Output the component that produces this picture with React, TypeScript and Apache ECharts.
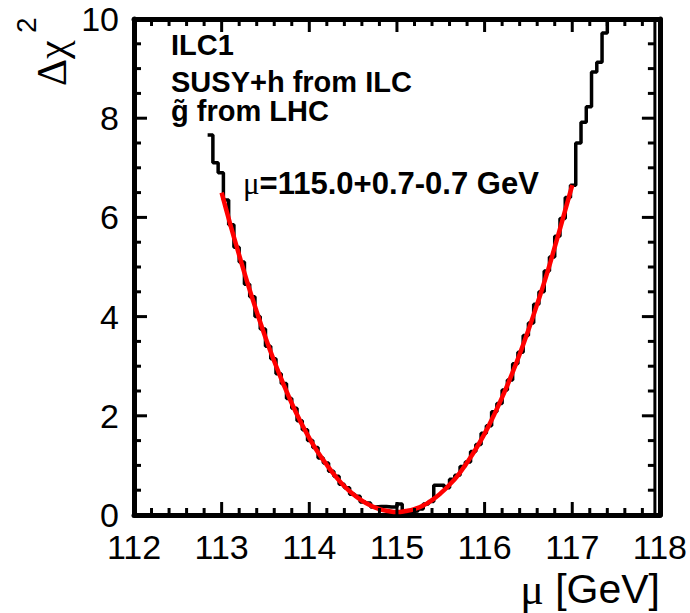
import { useEffect, useRef } from 'react';
import * as echarts from 'echarts';

// ---- data ----
const xTickLabels = ['112', '113', '114', '115', '116', '117', '118'];
const yTickLabels = ['0', '2', '4', '6', '8', '10'];

// Histogram of Δχ², bins of 0.06 GeV starting at 112.84 GeV
const binStart = 112.84;
const binWidth = 0.06;
const histValues = [
  7.66, 7.10, 6.90, 6.35, 5.85, 5.40, 5.10, 4.65, 4.40, 4.00,
  3.75, 3.40, 3.15, 2.85, 2.65, 2.35, 2.15, 1.90, 1.72, 1.50,
  1.36, 1.15, 1.05, 0.88, 0.78, 0.62, 0.55, 0.42, 0.38, 0.26,
  0.24, 0.16, 0.17, 0.17, 0.16, 0.16, 0.22, 0.06, 0.07, 0.08,
  0.12, 0.22, 0.27, 0.60, 0.60, 0.55, 0.72, 0.80, 0.98, 1.07,
  1.28, 1.42, 1.65, 1.80, 2.08, 2.25, 2.52, 2.72, 3.05, 3.28,
  3.62, 3.87, 4.25, 4.50, 4.92, 5.20, 5.62, 5.98, 6.40, 6.65,
  7.50, 7.92, 8.23, 8.93, 9.13, 9.72, 10.6,
];

// Parabolic fit curve (red)
const fitX = [
  113.0, 113.1, 113.2, 113.3, 113.4, 113.5, 113.6, 113.7, 113.8, 113.9,
  114.0, 114.1, 114.2, 114.3, 114.4, 114.5, 114.6, 114.7, 114.8, 114.9,
  115.0, 115.1, 115.2, 115.3, 115.4, 115.5, 115.6, 115.7, 115.8, 115.9,
  116.0, 116.1, 116.2, 116.3, 116.4, 116.5, 116.6, 116.7, 116.8, 116.9,
  117.0,
];
const fitY = [
  6.50, 5.85, 5.24, 4.65, 4.10, 3.58, 3.10, 2.66, 2.25, 1.88,
  1.55, 1.26, 1.01, 0.78, 0.58, 0.42, 0.29, 0.19, 0.12, 0.08,
  0.06, 0.08, 0.12, 0.19, 0.30, 0.44, 0.61, 0.81, 1.06, 1.33,
  1.64, 1.99, 2.37, 2.79, 3.24, 3.73, 4.25, 4.80, 5.40, 6.02,
  6.65,
];

const annotationLines = ['ILC1', 'SUSY+h from ILC', 'g\u0303 from LHC'];
const fitResultText = '=115.0+0.7-0.7 GeV';

// axis ranges and tick spacing
const X_MIN = 112, X_MAX = 118, X_MAJOR = 1, X_MINOR_DIV = 5;
const Y_MIN = 0, Y_MAX = 10, Y_MAJOR = 2, Y_MINOR_DIV = 4;

const SANS = 'Liberation Sans, Arial, Helvetica, sans-serif';
const SERIF = 'Liberation Serif, Times New Roman, serif';

const GRID = { left: 134, top: 19, width: 526, height: 496 };
const AXIS_W = 5;
const TICK_W = 3;
const MAJOR_LEN = 13;
const MINOR_LEN = 7;
const INNER_RIGHT_GAP = 5;

function tickValues(min: number, max: number, major: number, div: number) {
  const out: { v: number; major: boolean }[] = [];
  const n = Math.round((max - min) / major) * div;
  for (let k = 0; k <= n; k++) {
    out.push({ v: +(min + (k * major) / div).toFixed(6), major: k % div === 0 });
  }
  return out;
}

export default function App() {
  const ref = useRef<HTMLDivElement>(null);

  useEffect(() => {
    if (!ref.current) return;
    const chart = echarts.init(ref.current, undefined, { renderer: 'svg' });

    const histData: number[][] = [];
    histValues.forEach((v, i) => {
      const lo = binStart + i * binWidth;
      histData.push([lo, v]);
      histData.push([lo + binWidth, v]);
    });
    const fitData = fitX.map((x, i) => [x, fitY[i]]);

    // inward tick marks as rect symbols anchored on the axis values
    const tickMarks: any[] = [];
    tickValues(X_MIN, X_MAX, X_MAJOR, X_MINOR_DIV).forEach(({ v, major }) => {
      const len = major ? MAJOR_LEN : MINOR_LEN;
      tickMarks.push({ value: [v, Y_MIN], symbolSize: [TICK_W, len], symbolOffset: [0, -len / 2] });
      tickMarks.push({ value: [v, Y_MAX], symbolSize: [TICK_W, len], symbolOffset: [0, len / 2] });
    });
    tickValues(Y_MIN, Y_MAX, Y_MAJOR, Y_MINOR_DIV).forEach(({ v, major }) => {
      const len = major ? MAJOR_LEN : MINOR_LEN;
      tickMarks.push({ value: [X_MIN, v], symbolSize: [len, TICK_W], symbolOffset: [len / 2, 0] });
      tickMarks.push({
        value: [X_MAX, v],
        symbolSize: [len, TICK_W],
        symbolOffset: [-len / 2 - INNER_RIGHT_GAP, 0],
      });
    });
    // inner right frame line
    tickMarks.push({
      value: [X_MAX, (Y_MIN + Y_MAX) / 2],
      symbolSize: [TICK_W, GRID.height],
      symbolOffset: [-INNER_RIGHT_GAP, 0],
    });

    const axisBase = {
      type: 'value',
      splitLine: { show: false },
      axisTick: { show: false },
      minorTick: { show: false },
    };

    chart.setOption({
      animation: false,
      backgroundColor: '#fff',
      grid: { ...GRID, show: false },
      xAxis: [
        {
          ...axisBase,
          position: 'bottom',
          min: X_MIN,
          max: X_MAX,
          interval: X_MAJOR,
          axisLine: { show: true, onZero: false, lineStyle: { color: '#000', width: AXIS_W } },
          axisLabel: {
            show: true,
            color: '#000',
            fontFamily: SANS,
            fontSize: 34,
            lineHeight: 26,
            margin: 19,
            formatter: (v: number) => xTickLabels[Math.round((v - X_MIN) / X_MAJOR)] ?? '',
          },
        },
        {
          ...axisBase,
          position: 'top',
          min: X_MIN,
          max: X_MAX,
          interval: X_MAJOR,
          axisLine: { show: true, onZero: false, lineStyle: { color: '#000', width: AXIS_W } },
          axisLabel: { show: false },
        },
      ],
      yAxis: [
        {
          ...axisBase,
          position: 'left',
          min: Y_MIN,
          max: Y_MAX,
          interval: Y_MAJOR,
          axisLine: { show: true, onZero: false, lineStyle: { color: '#000', width: AXIS_W } },
          axisLabel: {
            show: true,
            color: '#000',
            fontFamily: SANS,
            fontSize: 34,
            lineHeight: 26,
            margin: 15,
            formatter: (v: number) => yTickLabels[Math.round((v - Y_MIN) / Y_MAJOR)] ?? '',
          },
        },
        {
          ...axisBase,
          position: 'right',
          min: Y_MIN,
          max: Y_MAX,
          interval: Y_MAJOR,
          axisLine: { show: true, onZero: false, lineStyle: { color: '#000', width: AXIS_W } },
          axisLabel: { show: false },
        },
      ],
      series: [
        {
          type: 'line',
          data: histData,
          xAxisIndex: 0,
          yAxisIndex: 0,
          showSymbol: false,
          symbol: 'none',
          clip: true,
          lineStyle: { color: '#000', width: 3.5 },
          z: 2,
        },
        {
          type: 'line',
          data: fitData,
          xAxisIndex: 0,
          yAxisIndex: 0,
          smooth: true,
          showSymbol: false,
          symbol: 'none',
          clip: true,
          lineStyle: { color: '#ff0000', width: 4.5 },
          z: 3,
        },
        {
          type: 'scatter',
          data: tickMarks,
          xAxisIndex: 0,
          yAxisIndex: 0,
          symbol: 'rect',
          clip: false,
          silent: true,
          itemStyle: { color: '#000', opacity: 1 },
          z: 5,
        },
      ],
      graphic: [
        ...annotationLines.map((t, i) => ({
          type: 'text',
          left: 171,
          top: [30, 67, 96][i],
          style: { text: t, font: `bold 29px ${SANS}`, fill: '#000' },
        })),
        {
          type: 'text',
          x: 243,
          y: 183,
          style: {
            text: '{m|\u03bc}' + fitResultText,
            font: `bold 31px ${SANS}`,
            fill: '#000',
            verticalAlign: 'middle',
            rich: { m: { fontFamily: SERIF, fontSize: 31, fontWeight: 'normal', fill: '#000' } },
          },
        },
        {
          type: 'text',
          x: 660,
          y: 589,
          style: {
            text: '{m|\u03bc} [GeV]',
            font: `41px ${SANS}`,
            fill: '#000',
            align: 'right',
            verticalAlign: 'middle',
            rich: { m: { fontFamily: SERIF, fontSize: 44, fill: '#000' } },
          },
        },
        {
          type: 'text',
          x: 52,
          y: 86,
          rotation: Math.PI / 2,
          style: { text: '\u0394\u03c7', font: `42px ${SERIF}`, fill: '#000', align: 'left', verticalAlign: 'middle' },
        },
        {
          type: 'text',
          x: 26,
          y: 33,
          rotation: Math.PI / 2,
          style: { text: '2', font: `28px ${SANS}`, fill: '#000', align: 'left', verticalAlign: 'middle' },
        },
      ],
    });

    return () => chart.dispose();
  }, []);

  return (
    <div
      ref={ref}
      style={{ position: 'fixed', left: 0, top: 0, width: 690, height: 613, background: '#fff' }}
    />
  );
}
